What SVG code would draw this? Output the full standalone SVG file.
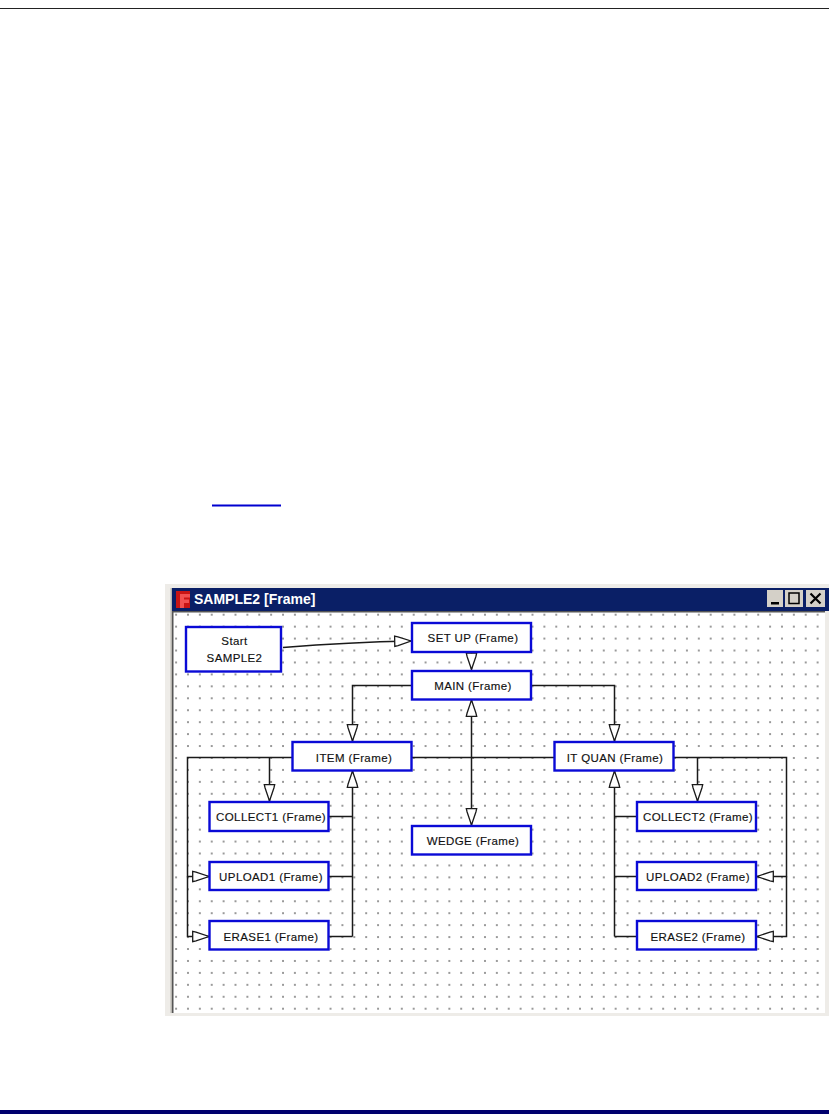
<svg xmlns="http://www.w3.org/2000/svg" width="829" height="1114" viewBox="0 0 829 1114">
<style>
.n{fill:#fff;stroke:#0a0ad6;stroke-width:2.4}
.t{font-family:"Liberation Sans",Arial,sans-serif;font-size:11.5px;fill:#111;text-anchor:middle;letter-spacing:.4px;stroke:#111;stroke-width:.15}
.c{fill:none;stroke:#1a1a1a;stroke-width:1.5;marker-end:url(#a)}
.p{fill:none;stroke:#1a1a1a;stroke-width:1.5}
</style>
<defs>
<marker id="a" markerUnits="userSpaceOnUse" markerWidth="20" markerHeight="14" refX="17" refY="6" orient="auto" overflow="visible"><path d="M0.7 0.8L4 1.6L17 6L4 10.400L0.7 11.200Z" fill="#fff" stroke="#1a1a1a" stroke-width="1.300"/></marker>
<pattern id="d" x="175.100" y="613.700" width="11.880" height="11.940" patternUnits="userSpaceOnUse"><rect x="0.300" y="0.300" width="1.400" height="1.400" fill="#333"/></pattern>
</defs>
<rect width="829" height="1114" fill="#fff"/>
<rect x="0" y="8" width="829" height="1" fill="#222"/>
<rect x="0" y="1110" width="829" height="4" fill="#00006e"/>
<rect x="212" y="504.500" width="69" height="2" fill="#0000d0"/>
<g id="window">
<rect x="165" y="584" width="664" height="432" fill="#eeece8"/>
<rect x="170.500" y="588" width="1.500" height="425" fill="#b8b6b0"/>
<rect x="173" y="612" width="652" height="401" fill="#fff"/>
<rect x="173" y="612" width="652" height="401" fill="url(#d)"/>
<rect x="172" y="588" width="657" height="23" fill="#0a1f66"/>
<rect x="172" y="611" width="653" height="1.500" fill="#555"/>
<rect x="172" y="611" width="1.500" height="402" fill="#555"/>
<rect x="176" y="591" width="14" height="17" fill="#c81414"/>
<path d="M180 594H190V597.500H184V599.500H189V603H184V608H180Z" fill="#f25050"/>
<text x="194" y="604" font-family="Liberation Sans,Arial,sans-serif" font-size="14px" font-weight="700" fill="#fff">SAMPLE2 [Frame]</text>
<rect x="767" y="590" width="16" height="17" fill="#d4d0c8"/><rect x="771" y="602" width="8" height="2.500" fill="#000"/>
<rect x="785" y="590" width="18" height="17" fill="#d4d0c8"/><rect x="789" y="593" width="10" height="10.500" fill="none" stroke="#000" stroke-width="1.500"/>
<rect x="806" y="590" width="19" height="17" fill="#d4d0c8"/><path d="M810.500 593.500L820.500 603.500M820.500 593.500L810.500 603.500" stroke="#000" stroke-width="2.200"/>
</g>
<g id="connectors">
<path class="c" d="M283 647.500Q350 642 411 641"/>
<path class="c" d="M471.500 652V669.500"/>
<path class="c" d="M411 685.500H352.500V741"/>
<path class="c" d="M531 685.500H614.500V741"/>
<path class="p" d="M412 757.500H554"/>
<path class="c" d="M471.500 757.500V700"/>
<path class="c" d="M471.500 757.500V825"/>
<path class="c" d="M292 757.500H187.500V876.500H209"/>
<path class="c" d="M187.500 876.500V936.500H209"/>
<path class="c" d="M269.500 757.500V801"/>
<path class="c" d="M352.500 936.500V771"/>
<path class="p" d="M329 816.500H352.500M329 876.500H352.500M329 936.500H352.500"/>
<path class="c" d="M674 757.500H786.500V876.500H757"/>
<path class="c" d="M786.500 876.500V936.500H757"/>
<path class="c" d="M697.500 757.500V801"/>
<path class="c" d="M614.500 936.500V771"/>
<path class="p" d="M637 816.500H614.500M637 876.500H614.500M637 936.500H614.500"/>
</g>
<g id="start"><rect class="n" x="186" y="627" width="95" height="44.500"/><text class="t" x="234.500" y="645">Start</text><text class="t" x="234.500" y="662">SAMPLE2</text></g>
<g id="setup"><rect class="n" x="412" y="623" width="119" height="29"/><text class="t" x="473" y="642">SET UP (Frame)</text></g>
<g id="main"><rect class="n" x="412" y="671" width="119" height="28.500"/><text class="t" x="473" y="690">MAIN (Frame)</text></g>
<g id="item"><rect class="n" x="292.500" y="742" width="119" height="28.500"/><text class="t" x="354" y="762">ITEM (Frame)</text></g>
<g id="itquan"><rect class="n" x="554.500" y="742" width="119" height="28.500"/><text class="t" x="615" y="762">IT QUAN (Frame)</text></g>
<g id="collect1"><rect class="n" x="209.500" y="802" width="119" height="29"/><text class="t" x="271" y="821">COLLECT1 (Frame)</text></g>
<g id="upload1"><rect class="n" x="209.500" y="862" width="119" height="28"/><text class="t" x="271" y="881">UPLOAD1 (Frame)</text></g>
<g id="erase1"><rect class="n" x="209.500" y="921" width="119" height="28.500"/><text class="t" x="271" y="941">ERASE1 (Frame)</text></g>
<g id="wedge"><rect class="n" x="412" y="826" width="119" height="28.500"/><text class="t" x="473" y="845">WEDGE (Frame)</text></g>
<g id="collect2"><rect class="n" x="637" y="802" width="119" height="29"/><text class="t" x="698" y="821">COLLECT2 (Frame)</text></g>
<g id="upload2"><rect class="n" x="637" y="862" width="119" height="28"/><text class="t" x="698" y="881">UPLOAD2 (Frame)</text></g>
<g id="erase2"><rect class="n" x="637" y="921" width="119" height="28.500"/><text class="t" x="698" y="941">ERASE2 (Frame)</text></g>
</svg>
